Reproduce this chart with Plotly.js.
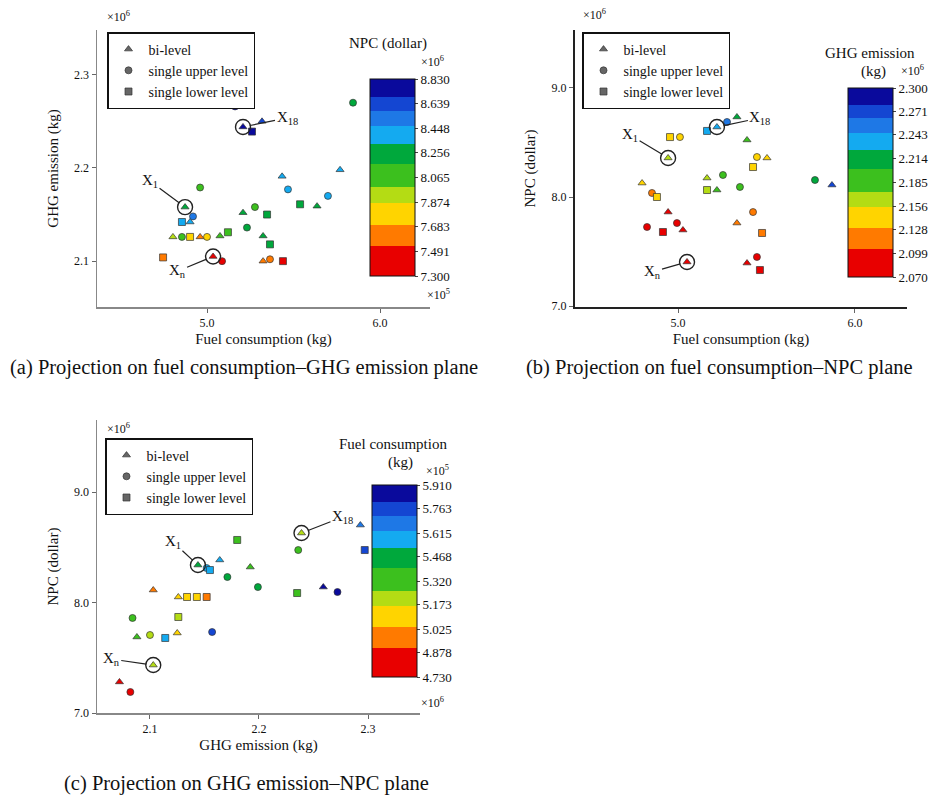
<!DOCTYPE html>
<html><head><meta charset="utf-8">
<script src="https://cdn.plot.ly/plotly-3.0.1.min.js"></script>
<style>html,body{margin:0;padding:0;background:#fff}#chart{width:930px;height:797px}</style>
</head><body><div id="chart"></div>
<script>
// ---------- Panel (a): fuel consumption vs GHG emission, colour = NPC ----------
const aFuel = [4.873,4.919,4.855,4.902,4.803,4.855,4.902,4.960,5.000,4.960,4.746,5.035,5.087,5.121,5.075,5.208,5.277,5.347,5.231,5.324,5.364,5.324,5.364,5.439,5.434,5.468,5.538,5.636,5.699,5.769,5.844,5.208,5.162,5.260,5.318];
const aGhg  = [2.158,2.148,2.142,2.142,2.126,2.126,2.126,2.126,2.126,2.179,2.104,2.105,2.100,2.131,2.127,2.152,2.158,2.150,2.136,2.127,2.118,2.100,2.102,2.100,2.191,2.177,2.161,2.159,2.170,2.198,2.270,2.244,2.266,2.239,2.250];
const aNpc  = [8.25,8.50,8.35,8.45,7.95,8.00,7.75,7.68,7.72,8.10,7.60,7.40,7.50,8.05,8.10,8.20,8.15,8.30,8.25,8.28,8.32,7.65,7.55,7.32,8.45,8.35,8.30,8.32,8.35,8.40,8.20,8.80,8.70,8.75,8.65];
const aType = ['b','u','l','b','b','u','l','b','u','u','l','b','u','l','b','b','u','l','u','b','l','b','u','l','b','u','l','b','u','b','u','b','u','l','b'];
const aKeys = [0,11,31];            // X1, Xn, X18
const aXTicks = [5.0,6.0];
const aYTicks = [2.1,2.2,2.3];
const npcBarTicks = [7.300,7.491,7.683,7.874,8.065,8.256,8.448,8.639,8.830];

// ---------- Panel (b): fuel consumption vs NPC, colour = GHG ----------
const bFuel = [4.944,5.220,5.277,5.164,5.181,5.333,4.797,4.853,4.881,5.164,5.254,5.164,5.220,5.350,5.390,5.446,5.424,5.503,5.424,5.333,5.475,5.390,5.446,5.463,4.944,4.994,4.915,5.028,4.825,5.051,5.774,5.870,4.955,5.011];
const bNpc  = [8.358,8.642,8.688,8.606,8.862,8.734,8.128,8.037,8.000,8.174,8.202,8.064,8.064,8.092,8.523,8.367,8.275,8.358,7.862,7.761,7.670,7.394,7.450,7.330,7.862,7.761,7.679,7.697,7.725,7.404,8.156,8.110,8.550,8.550];
const bGhg  = [2.16,2.24,2.25,2.23,2.26,2.22,2.13,2.12,2.13,2.17,2.18,2.17,2.18,2.19,2.20,2.15,2.14,2.15,2.12,2.11,2.11,2.08,2.09,2.08,2.09,2.10,2.09,2.10,2.10,2.10,2.21,2.27,2.14,2.15];
const bType = ['b','b','u','l','u','b','b','u','l','b','u','l','b','u','b','u','l','b','u','b','l','b','u','l','b','u','l','b','u','b','u','b','l','u'];
const bKeys = [0,29,1];             // X1, Xn, X18
const bXTicks = [5.0,6.0];
const bYTicks = [7.0,8.0,9.0];
const ghgBarTicks = [2.070,2.099,2.128,2.156,2.185,2.214,2.243,2.271,2.300];

// ---------- Panel (c): GHG emission vs NPC, colour = fuel consumption ----------
const cGhg  = [2.103,2.144,2.152,2.239,2.236,2.103,2.126,2.134,2.143,2.152,2.084,2.126,2.088,2.100,2.114,2.125,2.157,2.072,2.082,2.155,2.164,2.171,2.180,2.192,2.199,2.235,2.259,2.272,2.293,2.297];
const cNpc  = [7.434,8.339,8.312,8.629,8.475,8.113,8.050,8.050,8.050,8.050,7.860,7.869,7.688,7.706,7.679,7.724,7.733,7.281,7.190,8.294,8.385,8.231,8.566,8.321,8.140,8.086,8.140,8.095,8.701,8.475];
const cFuel = [5.25,5.45,5.55,5.20,5.40,4.95,5.15,5.10,5.05,5.00,5.30,5.20,5.35,5.25,5.60,5.15,5.80,4.75,4.73,5.55,5.60,5.50,5.35,5.30,5.45,5.40,5.85,5.90,5.70,5.75];
const cType = ['b','b','u','b','u','b','b','l','l','l','u','l','b','u','l','b','u','b','u','l','b','u','l','b','u','l','b','u','b','l'];
const cKeys = [1,0,3];              // X1, Xn, X18
const cXTicks = [2.1,2.2,2.3];
const cYTicks = [7.0,8.0,9.0];
const fuelBarTicks = [4.730,4.878,5.025,5.173,5.320,5.468,5.615,5.763,5.910];

const typeCodes = ['b','u','l'];
const typeNames = ['bi-level','single upper level','single lower level'];
const keyNames = ['X<sub>1</sub>','X<sub>n</sub>','X<sub>18</sub>'];

// ---------- styling ----------
const F = 'Liberation Serif';
const typeSymbols = ['triangle-up','circle','square'];
const bandColors = ['#e80000','#ff7a00','#ffd400','#b4dc14','#3cc01e','#00a83c','#14aaf0','#1e78e6','#1446d2','#0a0a9c'];
const bandStops = [0,0.15,0.26,0.37,0.45,0.57,0.67,0.76,0.84,0.91,1];
const CS = [];
bandColors.forEach((c,i)=>{CS.push([bandStops[i],c]);CS.push([bandStops[i+1],c]);});

const panels = [
  {x:aFuel,y:aGhg,c:aNpc,t:aType,keys:aKeys,xa:'x',ya:'y',ca:'coloraxis',lg:'legend',
   offs:[[-35,-26],[-36,15],[44,-9]]},
  {x:bFuel,y:bNpc,c:bGhg,t:bType,keys:bKeys,xa:'x2',ya:'y2',ca:'coloraxis2',lg:'legend2',
   offs:[[-38,-23],[-35,10],[43,-9]]},
  {x:cGhg,y:cNpc,c:cFuel,t:cType,keys:cKeys,xa:'x3',ya:'y3',ca:'coloraxis3',lg:'legend3',
   offs:[[-25,-23],[-42,-6],[41,-16]]}
];

const traces = [];
const annotations = [];
panels.forEach(p=>{
  typeCodes.forEach((code,k)=>{
    const idx = p.t.map((v,i)=>v===code?i:-1).filter(i=>i>=0);
    traces.push({type:'scatter',mode:'markers',xaxis:p.xa,yaxis:p.ya,showlegend:false,
      x:idx.map(i=>p.x[i]),y:idx.map(i=>p.y[i]),
      marker:{symbol:typeSymbols[k],size:7,color:idx.map(i=>p.c[i]),coloraxis:p.ca,
              line:{color:'#333',width:0.7}},hoverinfo:'x+y'});
  });
  traces.push({type:'scatter',mode:'markers',xaxis:p.xa,yaxis:p.ya,showlegend:false,
    x:p.keys.map(i=>p.x[i]),y:p.keys.map(i=>p.y[i]),
    marker:{symbol:'circle-open',size:15,color:'#222',line:{width:1.4}},hoverinfo:'skip'});
  typeCodes.forEach((code,k)=>{
    traces.push({type:'scatter',mode:'markers',xaxis:p.xa,yaxis:p.ya,legend:p.lg,
      name:typeNames[k],x:[null],y:[null],
      marker:{symbol:typeSymbols[k],size:7,color:'#666',line:{color:'#333',width:0.7}}});
  });
  p.keys.forEach((i,j)=>{
    annotations.push({xref:p.xa,yref:p.ya,x:p.x[i],y:p.y[i],text:keyNames[j],
      showarrow:true,arrowhead:0,arrowwidth:1.2,arrowcolor:'#222',standoff:7,
      ax:p.offs[j][0],ay:p.offs[j][1],font:{family:F,size:15,color:'#111'}});
  });
});

function ann(x,y,text,size,anchor){
  return {xref:'paper',yref:'paper',x:x/930,y:1-y/797,text:text,showarrow:false,
    xanchor:anchor||'center',yanchor:'middle',font:{family:F,size:size,color:'#111'}};
}
// captions
annotations.push(ann(8,368,'(a) Projection on fuel consumption–GHG emission plane',20.5,'left'));
annotations.push(ann(524,368,'(b) Projection on fuel consumption–NPC plane',20.5,'left'));
annotations.push(ann(62,783,'(c) Projection on GHG emission–NPC plane',20.5,'left'));
// exponent labels
annotations.push(ann(118,16,'×10<sup>6</sup>',12));
annotations.push(ann(594,14,'×10<sup>6</sup>',12));
annotations.push(ann(118,428,'×10<sup>6</sup>',12));
annotations.push(ann(438,295,'×10<sup>5</sup>',12));
annotations.push(ann(432,702,'×10<sup>6</sup>',12));
// colour bar titles
annotations.push(ann(388,43,'NPC (dollar)',15));
annotations.push(ann(432,62,'×10<sup>6</sup>',12));
annotations.push(ann(870,53,'GHG emission',15));
annotations.push(ann(873,71,'(kg)',15));
annotations.push(ann(912,70,'×10<sup>6</sup>',12));
annotations.push(ann(393,444,'Fuel consumption',15));
annotations.push(ann(400,462,'(kg)',15));
annotations.push(ann(437,470,'×10<sup>5</sup>',12));

function axis(opts){
  return Object.assign({showline:true,linewidth:1.5,linecolor:'#888',ticks:'outside',ticklen:4,
    tickcolor:'#666',showgrid:false,zeroline:false,tickfont:{family:F,size:12,color:'#111'},
    tickformat:'.1f'},opts);
}
function cbar(x,yTop,len,ticks){
  return {x:x/930,xanchor:'left',y:1-yTop/797,yanchor:'top',len:len,lenmode:'pixels',
    thickness:45,thicknessmode:'pixels',xpad:0,ypad:0,outlinecolor:'#111',outlinewidth:1,
    tickvals:ticks,ticktext:ticks.map(v=>v.toFixed(3)),ticks:'outside',ticklen:3,
    tickfont:{family:F,size:13,color:'#111'}};
}
function legend(x,y){
  return {x:x/930,y:1-y/797,xanchor:'left',yanchor:'top',bgcolor:'#fff',bordercolor:'#111',
    borderwidth:1.5,font:{family:F,size:14,color:'#111'},itemwidth:30,tracegroupgap:0};
}
const titleFont = {family:F,size:15,color:'#111'};

const layout = {
  width:930,height:797,margin:{l:0,r:0,t:0,b:0},paper_bgcolor:'#fff',plot_bgcolor:'#fff',
  font:{family:F,color:'#111'},
  xaxis:axis({domain:[97/930,430/930],range:[4.364,6.289],tickvals:aXTicks,anchor:'y',
    title:{text:'Fuel consumption (kg)',font:titleFont,standoff:4}}),
  yaxis:axis({domain:[1-307/797,1-30/797],range:[2.0508,2.348],tickvals:aYTicks,anchor:'x',
    title:{text:'GHG emission (kg)',font:titleFont,standoff:12}}),
  xaxis2:axis({domain:[575/930,907/930],range:[4.418,6.294],tickvals:bXTicks,anchor:'y2',linecolor:'#222',linewidth:2,
    title:{text:'Fuel consumption (kg)',font:titleFont,standoff:4}}),
  yaxis2:axis({domain:[1-307/797,1-30/797],range:[6.991,9.532],tickvals:bYTicks,anchor:'x2',linecolor:'#222',linewidth:2,
    title:{text:'NPC (dollar)',font:titleFont,standoff:12}}),
  xaxis3:axis({domain:[97/930,420/930],range:[2.0514,2.3477],tickvals:cXTicks,anchor:'y3',
    title:{text:'GHG emission (kg)',font:titleFont,standoff:4}}),
  yaxis3:axis({domain:[1-713/797,1-420/797],range:[7.0,9.652],tickvals:cYTicks,anchor:'x3',
    title:{text:'NPC (dollar)',font:titleFont,standoff:12}}),
  coloraxis:{cmin:npcBarTicks[0],cmax:npcBarTicks[npcBarTicks.length-1],colorscale:CS,colorbar:cbar(370,79,197,npcBarTicks)},
  coloraxis2:{cmin:ghgBarTicks[0],cmax:ghgBarTicks[ghgBarTicks.length-1],colorscale:CS,colorbar:cbar(848,88,189,ghgBarTicks)},
  coloraxis3:{cmin:fuelBarTicks[0],cmax:fuelBarTicks[fuelBarTicks.length-1],colorscale:CS,colorbar:cbar(372,485,192,fuelBarTicks)},
  legend:legend(107,32),
  legend2:legend(582,32),
  legend3:legend(105,438),
  annotations:annotations,
  showlegend:true
};

Plotly.newPlot('chart',traces,layout,{displayModeBar:false,staticPlot:true});
</script>
</body></html>
